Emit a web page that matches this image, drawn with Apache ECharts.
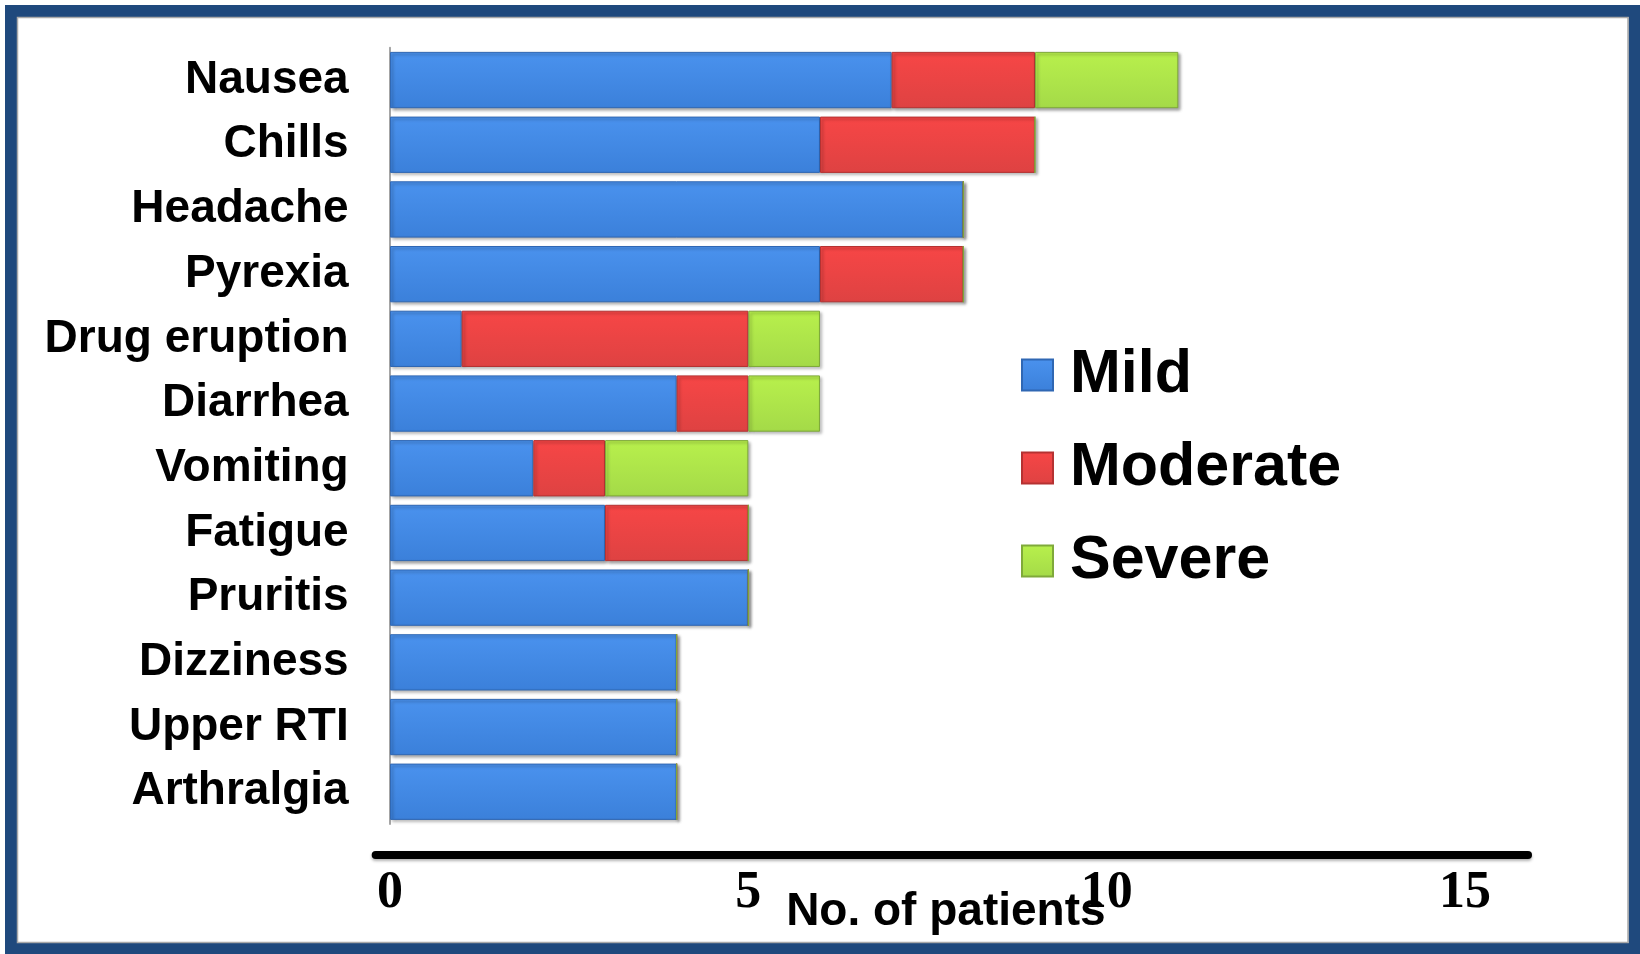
<!DOCTYPE html>
<html>
<head>
<meta charset="utf-8">
<script src="https://cdn.jsdelivr.net/npm/echarts@6/dist/echarts.min.js"></script>
<style>
  html, body { margin: 0; padding: 0; background: #fff; }
  #chart { width: 1640px; height: 954px; }
</style>
</head>
<body>
<div id="chart"></div>
<script>
// Adverse events by severity (number of patients)
const categories = ['Nausea', 'Chills', 'Headache', 'Pyrexia', 'Drug eruption', 'Diarrhea',
  'Vomiting', 'Fatigue', 'Pruritis', 'Dizziness', 'Upper RTI', 'Arthralgia'];
const mild     = [7, 6, 8, 6, 1, 4, 2, 3, 5, 4, 4, 4];
const moderate = [2, 3, 0, 2, 4, 1, 1, 2, 0, 0, 0, 0];
const severe   = [2, 0, 0, 0, 1, 1, 2, 0, 0, 0, 0, 0];
const xTicks = [0, 5, 10, 15];

function grad(top, bottom) {
  return { type: 'linear', x: 0, y: 0, x2: 0, y2: 1,
    colorStops: [{ offset: 0, color: top }, { offset: 1, color: bottom }] };
}

function barSeries(name, data, top, bottom, edge) {
  return {
    name: name,
    type: 'bar',
    stack: 'total',
    data: data,
    barCategoryGap: '13%',
    itemStyle: {
      color: grad(top, bottom),
      borderColor: edge,
      borderWidth: 1,
      shadowColor: 'rgba(0,0,0,0.35)',
      shadowBlur: 3,
      shadowOffsetX: 2,
      shadowOffsetY: 2
    }
  };
}

const chart = echarts.init(document.getElementById('chart'));
chart.setOption({
  backgroundColor: '#ffffff',
  animation: false,
  graphic: [
    { type: 'rect', shape: { x: 11, y: 11, width: 1623.5, height: 938 },
      style: { fill: 'none', stroke: '#1f497d', lineWidth: 12 }, z: 100 },
    { type: 'rect', shape: { x: 17.5, y: 17.5, width: 1610.5, height: 925 },
      style: { fill: 'none', stroke: '#a9a9a9', lineWidth: 1.5 }, z: 100 }
  ],
  grid: { left: 375.7, top: 47.7, width: 1152.3, height: 776.4,
    containLabel: false, outerBoundsMode: 'none' },
  legend: {
    orient: 'vertical',
    left: 1021,
    top: 342,
    padding: 0,
    icon: 'rect',
    itemWidth: 31,
    itemHeight: 31,
    itemGap: 27,
    textStyle: { fontFamily: 'Liberation Sans, Arial, sans-serif', fontWeight: 'bold',
      fontSize: 61, color: '#000', lineHeight: 60, padding: [6, 0, 0, 12] },
    data: ['Mild', 'Moderate', 'Severe']
  },
  xAxis: {
    type: 'value',
    min: -0.2,
    max: 15.88,
    offset: 31,
    axisLine: { show: true, lineStyle: { color: '#000', width: 8,
      shadowColor: 'rgba(0,0,0,0.3)', shadowBlur: 3, shadowOffsetY: 2 } },
    axisTick: { show: false },
    splitLine: { show: false },
    axisLabel: {
      customValues: xTicks,
      margin: 12,
      fontFamily: 'Liberation Serif, DejaVu Serif, serif',
      fontWeight: 'bold',
      fontSize: 52,
      color: '#000'
    },
    name: 'No. of patients',
    nameLocation: 'middle',
    nameGap: 34,
    nameMoveOverlap: false,
    nameTextStyle: { fontFamily: 'Liberation Sans, Arial, sans-serif', fontWeight: 'bold',
      fontSize: 46, color: '#000', padding: [0, 12, 0, 0] }
  },
  yAxis: {
    type: 'category',
    data: categories,
    inverse: true,
    axisLine: { show: true, onZero: true, lineStyle: { color: '#a6a6a6', width: 2 } },
    axisTick: { show: false },
    axisLabel: {
      margin: 27,
      padding: [4, 0, 0, 0],
      fontFamily: 'Liberation Sans, Arial, sans-serif',
      fontWeight: 'bold',
      fontSize: 46,
      color: '#000'
    }
  },
  series: [
    barSeries('Mild', mild, '#4a92ee', '#3b80da', '#2f67b3'),
    barSeries('Moderate', moderate, '#f74646', '#de4242', '#b53232'),
    barSeries('Severe', severe, '#b8f04c', '#a4da48', '#7fa93a')
  ]
});
</script>
</body>
</html>
